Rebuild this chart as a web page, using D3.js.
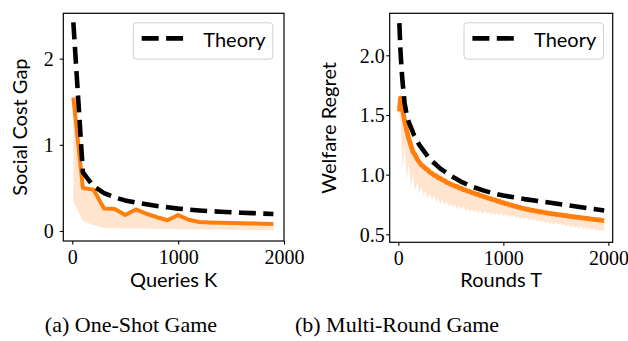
<!DOCTYPE html>
<html><head><meta charset="utf-8">
<script src="https://cdn.jsdelivr.net/npm/d3@7"></script>
<style>body{margin:0;background:#fff}svg{display:block}</style>
</head><body>
<svg id="chart" width="628" height="341"></svg>
<script>
// ---------- Data: (a) One-Shot Game ----------
const queriesK = [10,100,200,300,400,500,600,700,800,900,1000,1100,1200,1300,1400,1500,1600,1700,1800,1900];
const oneShotMean = [1.55,0.50,0.48,0.26,0.255,0.185,0.25,0.20,0.16,0.125,0.185,0.13,0.105,0.10,0.097,0.094,0.091,0.088,0.085,0.082];
const oneShotLower = [0.34,0.12,0.07,0.035,0.035,0.03,0.03,0.028,0.025,0.022,0.02,0.02,0.018,0.017,0.016,0.015,0.014,0.013,0.012,0.012];
const oneShotTheory = [2.42,0.68,0.52,0.44,0.39,0.355,0.33,0.31,0.29,0.275,0.26,0.248,0.238,0.23,0.224,0.218,0.212,0.207,0.202,0.198];

// ---------- Data: (b) Multi-Round Game ----------
const roundsT = [10,20,40,60,80,100,120,140,160,180,200,220,240,260,280,300,320,340,360,380,400,420,440,460,480,500,520,540,560,580,600,620,640,660,680,700,720,740,760,780,800,820,840,860,880,900,920,940,960,980,1000,1020,1040,1060,1080,1100,1120,1140,1160,1180,1200,1220,1240,1260,1280,1300,1320,1340,1360,1380,1400,1420,1440,1460,1480,1500,1520,1540,1560,1580,1600,1620,1640,1660,1680,1700,1720,1740,1760,1780,1800,1820,1840,1860,1880,1900,1920,1940,1960];
const multiMean = [1.53,1.64,1.55,1.45,1.37,1.30,1.245,1.19,1.165,1.13,1.105,1.08,1.068,1.05,1.04,1.02,1.01,0.995,0.99,0.975,0.97,0.955,0.95,0.935,0.93,0.918,0.913,0.903,0.899,0.889,0.885,0.875,0.871,0.861,0.858,0.849,0.846,0.837,0.834,0.825,0.822,0.813,0.81,0.801,0.798,0.79,0.788,0.779,0.777,0.768,0.766,0.757,0.755,0.746,0.744,0.737,0.735,0.727,0.725,0.718,0.716,0.71,0.708,0.702,0.701,0.696,0.694,0.689,0.688,0.684,0.682,0.677,0.676,0.672,0.671,0.667,0.666,0.662,0.661,0.657,0.656,0.652,0.651,0.647,0.646,0.643,0.642,0.638,0.637,0.634,0.633,0.629,0.628,0.625,0.624,0.621,0.62,0.617,0.615];
const multiLower = [1.50,1.45,1.04,1.25,0.95,1.10,0.90,1.00,0.86,0.94,0.84,0.90,0.82,0.87,0.80,0.845,0.785,0.825,0.77,0.805,0.755,0.79,0.745,0.775,0.735,0.76,0.725,0.75,0.715,0.74,0.705,0.73,0.695,0.715,0.69,0.71,0.685,0.705,0.68,0.70,0.675,0.695,0.67,0.69,0.665,0.685,0.66,0.68,0.655,0.675,0.65,0.668,0.645,0.663,0.64,0.658,0.635,0.652,0.63,0.646,0.625,0.64,0.619,0.634,0.613,0.628,0.607,0.622,0.601,0.616,0.595,0.61,0.589,0.604,0.583,0.598,0.577,0.592,0.571,0.586,0.565,0.58,0.56,0.575,0.555,0.57,0.55,0.565,0.545,0.56,0.54,0.555,0.535,0.55,0.53,0.545,0.525,0.54,0.52];
const theoryT = [10,20,30,40,60,80,100,150,200,300,400,500,600,700,800,900,1000,1200,1400,1600,1800,1960];
const multiTheory = [2.27,2.05,1.90,1.78,1.60,1.50,1.44,1.33,1.25,1.13,1.05,0.99,0.94,0.90,0.87,0.845,0.825,0.795,0.77,0.745,0.72,0.70];

// ---------- Axis ticks and text ----------
const xTicks = [0,1000,2000];
const xTickLabels = ["0","1000","2000"];
const yTicksA = [0,1,2];
const yTickLabelsA = ["0","1","2"];
const yTicksB = [0.5,1.0,1.5,2.0];
const yTickLabelsB = ["0.5","1.0","1.5","2.0"];
const legendLabel = "Theory";

const ORANGE = "#ff7f0e", BAND = "#ffe5cf";
const SANS = "Lato, 'DejaVu Sans', sans-serif";
const SERIF = "'Liberation Serif', 'DejaVu Serif', serif";

const panels = [
  { x: queriesK, mean: oneShotMean, lower: oneShotLower, tx: queriesK, theory: oneShotTheory, lw: 4,
    xDom: [-85, 2000], yDom: [-0.116, 2.526], xR: [63.3, 284], yR: [241, 13.3],
    yTicks: yTicksA, yLabels: yTickLabelsA, xlabel: "Queries K", ylabel: "Social Cost Gap",
    caption: "(a) One-Shot Game", capX: 131, ylabX: 27, legendX: 133.3, pad: 6 },
  { x: roundsT, mean: multiMean, lower: multiLower, tx: theoryT, theory: multiTheory, lw: 4.8,
    xDom: [-82, 2041], yDom: [0.433, 2.352], xR: [389.7, 612.7], yR: [242.3, 13.3],
    yTicks: yTicksB, yLabels: yTickLabelsB, xlabel: "Rounds T", ylabel: "Welfare Regret",
    caption: "(b) Multi-Round Game", capX: 397, ylabX: 336, legendX: 464, pad: 1.5 }
];

const svg = d3.select("#chart");

panels.forEach(p => {
  const x = d3.scaleLinear().domain(p.xDom).range(p.xR);
  const y = d3.scaleLinear().domain(p.yDom).range(p.yR);
  const g = svg.append("g");
  const clipId = "clip" + Math.round(p.xR[0]);
  g.append("clipPath").attr("id", clipId).append("rect")
    .attr("x", p.xR[0]).attr("y", p.yR[1]).attr("width", p.xR[1]-p.xR[0]).attr("height", p.yR[0]-p.yR[1]);
  const plot = g.append("g").attr("clip-path", `url(#${clipId})`);

  const idx = d3.range(p.x.length);
  plot.append("path")
    .attr("d", d3.area().x(i => x(p.x[i])).y0(i => y(p.lower[i])).y1(i => y(p.mean[i]))(idx))
    .attr("fill", BAND).attr("stroke", "none");
  plot.append("path")
    .attr("d", d3.line().x(i => x(p.x[i])).y(i => y(p.mean[i]))(idx))
    .attr("fill", "none").attr("stroke", ORANGE).attr("stroke-width", p.lw).attr("stroke-linejoin", "round");
  plot.append("path")
    .attr("d", d3.line().x(i => x(p.tx[i])).y(i => y(p.theory[i]))(d3.range(p.tx.length)))
    .attr("fill", "none").attr("stroke", "#000").attr("stroke-width", 4.6)
    .attr("stroke-dasharray", "17,7.4").attr("stroke-linejoin", "round");

  // axes
  const xAxis = d3.axisBottom(x).tickValues(xTicks).tickFormat((d,i) => xTickLabels[i]).tickSize(3.5).tickPadding(4);
  const yAxis = d3.axisLeft(y).tickValues(p.yTicks).tickFormat((d,i) => p.yLabels[i]).tickSize(3.5).tickPadding(p.pad);
  const gx = g.append("g").attr("transform", `translate(0,${p.yR[0]})`).call(xAxis);
  const gy = g.append("g").attr("transform", `translate(${p.xR[0]},0)`).call(yAxis);
  [gx, gy].forEach(a => {
    a.attr("font-family", SERIF).attr("font-size", 20);
    a.select(".domain").remove();
    a.selectAll(".tick line").attr("stroke", "#000").attr("stroke-width", 1.1);
    a.selectAll(".tick text").attr("fill", "#000").attr("font-family", SERIF).style("font-family", SERIF).style("font-size", "20px");
  });
  gx.selectAll(".tick text").attr("dy", "0.75em");
  gy.selectAll(".tick text").attr("dy", "0.34em");

  // frame
  g.append("rect").attr("x", p.xR[0]).attr("y", p.yR[1]).attr("width", p.xR[1]-p.xR[0]).attr("height", p.yR[0]-p.yR[1])
    .attr("fill", "none").attr("stroke", "#000").attr("stroke-width", 1.2);

  // labels
  g.append("text").attr("x", (p.xR[0]+p.xR[1])/2).attr("y", 287).attr("text-anchor", "middle")
    .style("font-family", SANS).style("font-size", "20px").text(p.xlabel);
  g.append("text").attr("transform", `translate(${p.ylabX},${(p.yR[0]+p.yR[1])/2}) rotate(-90)`).attr("text-anchor", "middle")
    .style("font-family", SANS).style("font-size", "20px").text(p.ylabel);
  g.append("text").attr("x", p.capX).attr("y", 332).attr("text-anchor", "middle")
    .style("font-family", SERIF).style("font-size", "22px").text(p.caption);

  // legend
  const lg = g.append("g").attr("transform", `translate(${p.legendX},22.8)`);
  lg.append("rect").attr("x", 0).attr("y", 0).attr("width", 139.5).attr("height", 36.3).attr("rx", 3)
    .attr("fill", "#fff").attr("fill-opacity", 0.8).attr("stroke", "#d0d0d0").attr("stroke-width", 1);
  lg.append("line").attr("x1", 8.4).attr("x2", 51.7).attr("y1", 15.6).attr("y2", 15.6)
    .attr("stroke", "#000").attr("stroke-width", 4.6).attr("stroke-dasharray", "17,7.4");
  lg.append("text").attr("x", 70).attr("y", 24.6).style("font-family", SANS).style("font-size", "20px").text(legendLabel);
});
</script>
</body></html>
